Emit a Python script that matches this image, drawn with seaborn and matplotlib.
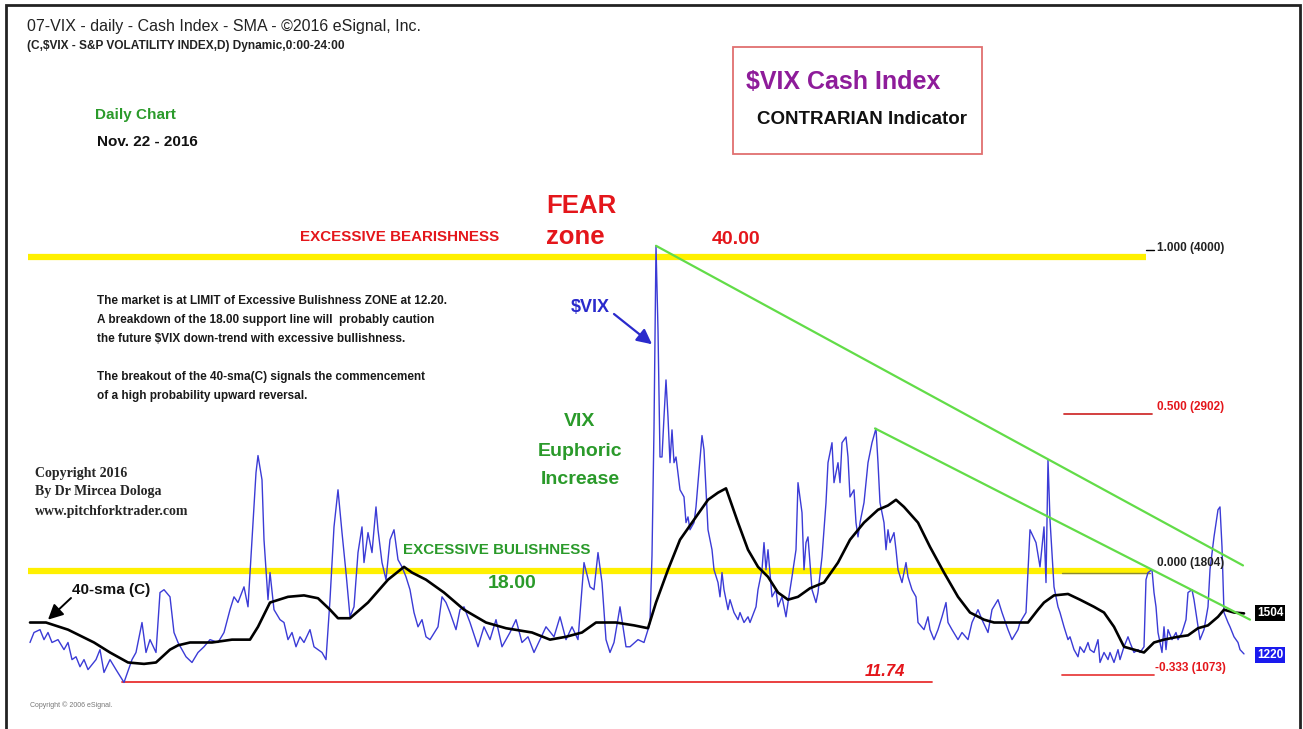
import matplotlib
matplotlib.use("Agg")
import matplotlib.pyplot as plt
import seaborn as sns
import pandas as pd
from matplotlib.patches import Rectangle

# ---- data ----
# bar = trading-day number from the first bar shown, value = $VIX close
vix_bar = [
    1, 3, 6, 8, 10, 12, 15, 18, 20, 22,
    24, 26, 28, 30, 34, 36, 38, 41, 44, 48,
    52, 54, 57, 59, 61, 64, 66, 68, 71, 73,
    75, 79, 82, 85, 88, 91, 95, 98, 101, 103,
    105, 108, 110, 112, 114, 115, 117, 118, 120, 121,
    123, 126, 128, 130, 132, 134, 136, 138, 141, 143,
    147, 149, 151, 153, 155, 157, 159, 161, 163, 165,
    167, 168, 170, 172, 174, 175, 177, 179, 181, 183,
    185, 187, 189, 191, 193, 195, 197, 199, 201, 205,
    207, 209, 211, 214, 216, 218, 221, 225, 228, 231,
    234, 237, 241, 244, 247, 250, 253, 256, 259, 263,
    266, 269, 272, 275, 278, 281, 283, 285, 287, 289,
    291, 293, 296, 299, 301, 305, 308, 310, 311, 312,
    313, 314, 315, 316, 317, 318, 319, 320, 321, 322,
    323, 324, 326, 328, 329, 330, 331, 333, 334, 335,
    337, 338, 339, 340, 342, 343, 345, 346, 347, 348,
    350, 351, 353, 355, 356, 358, 360, 361, 364, 365,
    367, 368, 369, 370, 372, 374, 375, 377, 379, 380,
    382, 384, 385, 387, 388, 389, 390, 392, 394, 395,
    397, 399, 400, 402, 403, 405, 406, 407, 409, 410,
    411, 413, 414, 415, 416, 418, 420, 422, 424, 425,
    426, 428, 429, 430, 431, 433, 434, 435, 437, 439,
    440, 442, 444, 445, 448, 450, 451, 453, 455, 457,
    459, 460, 462, 465, 467, 470, 472, 475, 477, 480,
    482, 485, 487, 490, 492, 495, 496, 499, 501, 504,
    506, 508, 509, 510, 511, 513, 515, 516, 518, 520,
    521, 523, 525, 526, 528, 530, 531, 533, 535, 536,
    538, 540, 541, 543, 545, 546, 548, 550, 551, 553,
    555, 556, 558, 559, 560, 562, 563, 564, 565, 567,
    568, 569, 570, 572, 574, 575, 577, 579, 580, 582,
    583, 585, 586, 588, 590, 591, 593, 595, 596, 597,
    598, 600, 601, 603, 605, 606, 608,
]
vix_close = [
    13.0, 13.7, 13.9, 13.2, 13.7, 13.0, 13.2, 12.5, 13.0, 11.8,
    12.0, 11.3, 11.8, 11.1, 11.8, 12.5, 10.9, 11.8, 11.1, 10.2,
    11.8, 12.3, 14.4, 12.3, 13.2, 12.3, 16.5, 16.7, 16.2, 13.7,
    13.0, 12.0, 11.6, 12.3, 12.7, 13.2, 13.0, 13.7, 15.3, 16.2,
    15.8, 16.9, 15.5, 20.2, 24.9, 26.1, 24.4, 20.2, 16.0, 17.9,
    15.3, 14.6, 14.4, 13.2, 13.7, 12.7, 13.4, 13.0, 13.9, 12.7,
    12.3, 11.8, 16.0, 21.1, 23.7, 20.7, 17.9, 14.8, 15.5, 19.3,
    21.1, 18.6, 20.7, 19.3, 22.5, 20.9, 18.6, 17.4, 20.2, 20.9,
    18.8, 18.3, 17.6, 16.7, 15.1, 14.1, 14.6, 13.4, 13.2, 14.1,
    16.2, 15.8, 15.1, 13.9, 15.3, 15.5, 14.4, 12.7, 14.1, 13.2,
    14.6, 12.7, 13.7, 14.6, 13.0, 13.4, 12.3, 13.2, 14.1, 13.4,
    14.8, 13.2, 14.1, 13.2, 18.6, 16.9, 16.7, 19.3, 17.2, 13.2,
    12.3, 13.0, 15.5, 12.7, 12.7, 13.2, 13.0, 13.9, 14.4, 19.1,
    28.0, 40.8, 34.9, 26.0, 26.0, 28.8, 31.4, 28.8, 25.6, 27.9,
    25.6, 26.0, 23.7, 23.2, 21.4, 21.8, 20.9, 21.4, 22.5, 24.2,
    27.5, 26.5, 23.7, 20.9, 19.5, 18.1, 17.2, 16.2, 17.9, 16.7,
    15.3, 16.0, 15.1, 14.6, 15.1, 14.4, 14.8, 14.4, 15.5, 16.7,
    18.1, 20.0, 18.1, 19.5, 16.2, 16.7, 15.5, 16.2, 14.8, 15.8,
    17.6, 19.5, 24.2, 22.1, 18.1, 20.0, 20.4, 16.7, 15.8, 16.5,
    19.0, 22.8, 25.6, 27.0, 24.2, 25.6, 24.2, 27.0, 27.4, 26.0,
    23.2, 23.7, 21.4, 20.4, 21.4, 22.8, 25.6, 27.0, 28.0, 25.6,
    22.8, 21.4, 19.5, 20.9, 20.0, 20.7, 19.5, 18.1, 17.2, 18.6,
    17.6, 16.7, 16.2, 14.4, 13.9, 14.8, 13.9, 13.2, 13.9, 14.8,
    15.8, 14.4, 13.9, 13.2, 13.7, 13.2, 14.4, 15.3, 14.6, 13.7,
    15.3, 16.0, 15.1, 13.9, 13.2, 13.9, 14.4, 15.1, 20.9, 20.0,
    18.3, 21.1, 17.2, 25.8, 21.6, 16.9, 15.5, 15.1, 14.1, 13.2,
    13.4, 12.5, 12.0, 12.7, 12.3, 13.0, 12.5, 12.3, 13.2, 11.6,
    12.3, 11.8, 12.3, 11.6, 12.5, 11.8, 12.7, 13.4, 13.0, 12.3,
    12.5, 12.3, 12.7, 17.4, 17.9, 18.1, 16.5, 15.5, 13.7, 12.3,
    14.1, 12.5, 13.9, 13.2, 13.7, 13.2, 13.7, 14.6, 16.5, 16.7,
    16.0, 14.1, 13.2, 13.9, 15.5, 18.1, 20.4, 22.3, 22.5, 19.7,
    15.1, 14.4, 14.1, 13.4, 13.0, 12.5, 12.2,
]

# 40-sma(C) as drawn on the chart
sma_bar = [
    1, 9, 20, 33, 41, 50, 58, 64, 71, 75,
    81, 92, 102, 111, 115, 121, 130, 138, 145, 151,
    155, 161, 170, 180, 188, 192, 199, 208, 218, 229,
    239, 252, 261, 269, 277, 284, 294, 303, 310, 314,
    320, 326, 333, 340, 345, 349, 351, 355, 360, 365,
    370, 375, 380, 385, 391, 398, 405, 411, 418, 425,
    430, 434, 438, 445, 451, 458, 465, 471, 478, 483,
    488, 495, 500, 505, 508, 513, 520, 526, 533, 538,
    543, 548, 553, 558, 563, 568, 575, 580, 585, 590,
    595, 598, 603, 608,
]
sma_value = [
    14.4, 14.4, 13.9, 13.0, 12.3, 11.6, 11.5, 11.6, 12.5, 12.8,
    13.0, 13.0, 13.2, 13.2, 14.1, 15.8, 16.2, 16.3, 16.1, 15.3,
    14.7, 14.7, 15.8, 17.4, 18.3, 17.9, 17.4, 16.5, 15.3, 14.4,
    14.0, 13.7, 13.2, 13.4, 13.7, 14.4, 14.4, 14.2, 14.0, 15.8,
    18.1, 20.2, 21.6, 23.0, 23.5, 23.8, 23.0, 21.4, 19.5, 18.3,
    17.6, 16.5, 16.0, 16.2, 16.8, 17.2, 18.6, 20.2, 21.4, 22.3,
    22.6, 23.0, 22.5, 21.4, 19.7, 17.9, 16.2, 15.1, 14.6, 14.4,
    14.4, 14.4, 14.4, 15.3, 15.8, 16.3, 16.4, 16.0, 15.5, 15.1,
    14.1, 12.7, 12.5, 12.3, 13.0, 13.2, 13.4, 13.5, 14.0, 14.2,
    14.8, 15.3, 15.1, 15.04,
]

# horizontal levels
bear_level = 40.00
bull_level = 18.00
fib_half = 29.02
fib_low = 10.73
support_low = 10.2

# trend lines (bars, values)
trend_upper = ([314, 607.5], [40.8, 18.4])
trend_lower = ([423.5, 611], [28.0, 14.6])

last_close = 12.20
last_sma = 15.04

# ---- figure ----
W, H = 1303, 729
sns.set_style("white")
plt.rcParams["font.family"] = ["Liberation Sans", "DejaVu Sans"]
SANS = ["Liberation Sans", "DejaVu Sans"]
SERIF = ["Liberation Serif", "DejaVu Serif"]

RED = "#e4161b"
GREEN = "#2a9a2a"
YELLOW = "#fff000"
LIME = "#62dc48"
BLUE = "#3b3bd6"

fig = plt.figure(figsize=(W / 100, H / 100), dpi=100)
ax = fig.add_axes([0, 0, 1, 1])
ax.set_xlim(-14, (W - 28) / 2)
ax.set_ylim(99 / 14.27, 828 / 14.27)
ax.axis("off")


def fpos(x, y):
    return x / W, 1 - y / H


def ftext(x, y, s, **kw):
    kw.setdefault("va", "center")
    kw.setdefault("ha", "left")
    kw.setdefault("family", SANS)
    fig.text(x / W, 1 - y / H, s, **kw)


# yellow zone lines
ax.plot([0, 559], [bear_level, bear_level], color=YELLOW, lw=4.5, zorder=1, solid_capstyle="butt")
ax.plot([0, 561], [bull_level, bull_level], color=YELLOW, lw=4.5, zorder=1, solid_capstyle="butt")
ax.plot([559, 563], [bear_level + 0.5, bear_level + 0.5], color="black", lw=1, zorder=2)
ax.plot([517, 561], [bull_level - 0.1, bull_level - 0.1], color="#8a8a30", lw=1, zorder=2)
# fibonacci / support lines
ax.plot([518, 562], [fib_half, fib_half], color="#d03030", lw=1.3, zorder=2)
ax.plot([517, 563], [fib_low, fib_low], color="#e84040", lw=1.3, zorder=2)
ax.plot([47, 452], [support_low, support_low], color="#e83030", lw=1.3, zorder=2)

# price and moving average
vix_df = pd.DataFrame({"bar": vix_bar, "close": vix_close})
sma_df = pd.DataFrame({"bar": sma_bar, "sma": sma_value})
sns.lineplot(data=vix_df, x="bar", y="close", ax=ax, color=BLUE, lw=1.0,
             estimator=None, sort=False, zorder=3)
sns.lineplot(data=sma_df, x="bar", y="sma", ax=ax, color="black", lw=1.9,
             estimator=None, sort=False, zorder=4)
ax.set_xlabel("")
ax.set_ylabel("")

# trend lines
ax.plot(*trend_upper, color=LIME, lw=1.6, zorder=5)
ax.plot(*trend_lower, color=LIME, lw=1.6, zorder=5)

# ---- texts ----
ftext(27, 27, "07-VIX - daily - Cash Index - SMA - \u00a92016 eSignal, Inc.", fontsize=11.5,
      color="#222222")
ftext(27, 46, "(C,$VIX - S&P VOLATILITY INDEX,D) Dynamic,0:00-24:00", fontsize=8.6,
      weight="bold", color="#222222")
ftext(95, 115, "Daily Chart", fontsize=11, weight="bold", color=GREEN)
ftext(97, 142, "Nov. 22 - 2016", fontsize=11, weight="bold", color="#111111")

fig.add_artist(Rectangle(fpos(733, 154), 249 / W, 107 / H, transform=fig.transFigure,
                         fill=False, ec="#e07070", lw=1.3))
ftext(746, 82, "$VIX Cash Index", fontsize=18, weight="bold", color="#8e1c9a")
ftext(757, 119, "CONTRARIAN Indicator", fontsize=13.5, weight="bold", color="#111111")

ftext(546, 206, "FEAR", fontsize=18.5, weight="bold", color=RED)
ftext(546, 237, "zone", fontsize=18.5, weight="bold", color=RED)
ftext(300, 237, "EXCESSIVE BEARISHNESS", fontsize=10.9, weight="bold", color=RED)
ftext(712, 239, "40.00", fontsize=14, weight="bold", color=RED)

ftext(1157, 248, "1.000 (4000)", fontsize=8.5, weight="bold", color="#222222")
ftext(1157, 407, "0.500 (2902)", fontsize=8.5, weight="bold", color=RED)
ftext(1157, 563, "0.000 (1804)", fontsize=8.5, weight="bold", color="#222222")
ftext(1155, 668, "-0.333 (1073)", fontsize=8.5, weight="bold", color=RED)

para = [
    (301, "The market is at LIMIT of Excessive Bulishness ZONE at 12.20."),
    (320, "A breakdown of the 18.00 support line will  probably caution"),
    (339, "the future $VIX down-trend with excessive bullishness."),
    (377, "The breakout of the 40-sma(C) signals the commencement"),
    (396, "of a high probability upward reversal."),
]
for y, line in para:
    ftext(97, y, line, fontsize=8.5, weight="bold", color="#1a1a1a")

ftext(580, 421, "VIX", fontsize=14, weight="bold", color=GREEN, ha="center")
ftext(580, 451, "Euphoric", fontsize=14, weight="bold", color=GREEN, ha="center")
ftext(580, 480, "Increase", fontsize=14, weight="bold", color=GREEN, ha="center")

ftext(35, 474, "Copyright 2016", fontsize=10, family=SERIF, weight="bold")
ftext(35, 492, "By Dr Mircea Dologa", fontsize=10, family=SERIF, weight="bold")
ftext(35, 511, "www.pitchforktrader.com", fontsize=10, family=SERIF, weight="bold")

ftext(403, 550, "EXCESSIVE BULISHNESS", fontsize=10.9, weight="bold", color=GREEN)
ftext(488, 583, "18.00", fontsize=14, weight="bold", color=GREEN)
ftext(865, 671, "11.74", fontsize=12, weight="bold", style="italic", color=RED)
ftext(30, 705, "Copyright \u00a9 2006 eSignal.", fontsize=5, color="#777777")

# labels with arrows
ftext(571, 308, "$VIX", fontsize=13, weight="bold", color="#2a2acc")
ax.annotate("", xy=(312, 33.9), xycoords="data", xytext=fpos(614, 314),
            textcoords="figure fraction",
            arrowprops=dict(arrowstyle="-|>,head_length=0.9,head_width=0.45", color="#2a2acc",
                            lw=1.6, shrinkA=0, shrinkB=0))
ftext(72, 590, "40-sma (C)", fontsize=11, weight="bold", color="#111111")
ax.annotate("", xy=(10, 14.6), xycoords="data", xytext=fpos(71, 598),
            textcoords="figure fraction",
            arrowprops=dict(arrowstyle="-|>,head_length=0.9,head_width=0.45", color="black",
                            lw=1.4, shrinkA=0, shrinkB=0))

# last value tags on the right
ftext(1257, 613, f"{last_sma * 100:.0f}", fontsize=8.5, weight="bold", color="white",
      bbox=dict(boxstyle="square,pad=0.15", fc="black", ec="none"))
ftext(1257, 655, f"{last_close * 100:.0f}", fontsize=8.5, weight="bold", color="white",
      bbox=dict(boxstyle="square,pad=0.15", fc="#1a1aee", ec="none"))

# outer frame
fig.add_artist(Rectangle(fpos(6, 760), (1300 - 6) / W, 755 / H, transform=fig.transFigure,
                         fill=False, ec="#222222", lw=2))

fig.savefig("out.png", dpi=100, facecolor="white")
